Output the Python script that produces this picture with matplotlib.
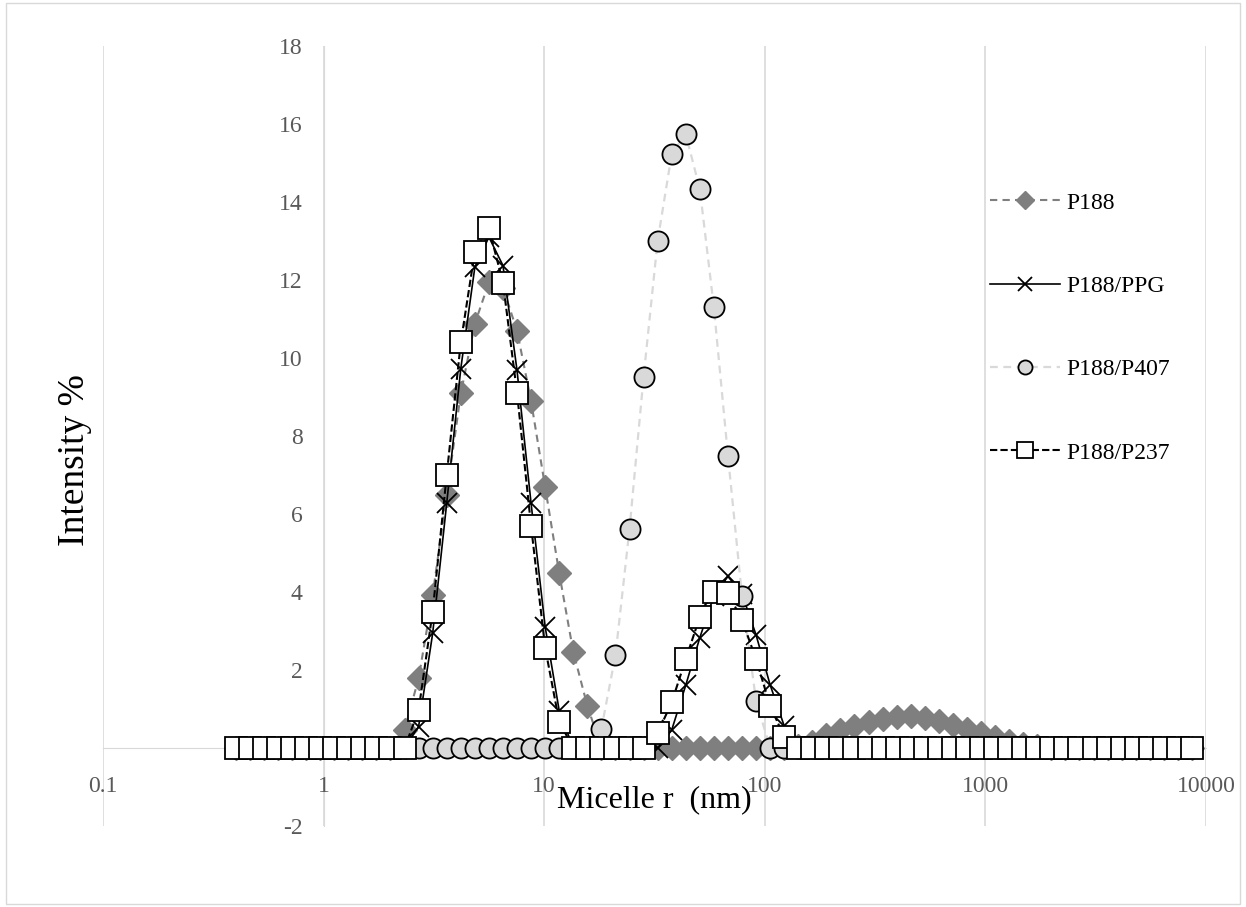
import matplotlib
matplotlib.use('Agg')
import matplotlib.pyplot as plt
from matplotlib.ticker import FixedLocator, FixedFormatter, NullLocator
from matplotlib.patches import Rectangle

# size bins (nm)
size_nm = [0.4, 0.4632, 0.5365, 0.6213, 0.7195, 0.8332, 0.9649, 1.117, 1.294, 1.499,
           1.736, 2.01, 2.328, 2.696, 3.122, 3.615, 4.187, 4.849, 5.615, 6.503,
           7.531, 8.721, 10.1, 11.7, 13.54, 15.69, 18.17, 21.04, 24.36, 28.21,
           32.67, 37.84, 43.82, 50.75, 58.77, 68.06, 78.82, 91.28, 105.7, 122.4,
           141.8, 164.2, 190.1, 220.2, 255.0, 295.3, 342.0, 396.1, 458.7, 531.2,
           615.1, 712.4, 825.0, 955.4, 1106, 1281, 1484, 1718, 1990, 2305,
           2669, 3091, 3580, 4145, 4801, 5560, 6439, 7456, 8635]

p188 = [0, 0, 0, 0, 0, 0, 0, 0, 0, 0,
        0, 0, 0.46, 1.79, 3.92, 6.5, 9.09, 10.88, 11.94, 11.8,
        10.7, 8.89, 6.69, 4.48, 2.47, 1.08, 0, 0, 0, 0,
        0, 0, 0, 0, 0, 0, 0, 0, 0, 0,
        0.05, 0.16, 0.33, 0.45, 0.57, 0.66, 0.75, 0.80, 0.82, 0.78,
        0.70, 0.60, 0.49, 0.39, 0.29, 0.19, 0.10, 0.06, 0, 0,
        0, 0, 0, 0, 0, 0, 0, 0, 0]

p188_ppg = [0, 0, 0, 0, 0, 0, 0, 0, 0, 0,
            0, 0, 0, 0.55, 2.94, 6.28, 9.73, 12.33, 13.1, 12.37,
            9.68, 6.27, 3.11, 0.95, 0, 0, 0, 0, 0, 0,
            0, 0.46, 1.61, 2.83, 3.9, 4.4, 3.95, 2.9, 1.62, 0.57,
            0, 0, 0, 0, 0, 0, 0, 0, 0, 0,
            0, 0, 0, 0, 0, 0, 0, 0, 0, 0,
            0, 0, 0, 0, 0, 0, 0, 0, 0]

p188_p407 = [0, 0, 0, 0, 0, 0, 0, 0, 0, 0,
             0, 0, 0, 0, 0, 0, 0, 0, 0, 0,
             0, 0, 0, 0, 0, 0, 0.5, 2.38, 5.61, 9.51,
             13.0, 15.23, 15.74, 14.33, 11.3, 7.5, 3.9, 1.21, 0, 0,
             0, 0, 0, 0, 0, 0, 0, 0, 0, 0,
             0, 0, 0, 0, 0, 0, 0, 0, 0, 0,
             0, 0, 0, 0, 0, 0, 0, 0, 0]

p188_p237 = [0, 0, 0, 0, 0, 0, 0, 0, 0, 0,
             0, 0, 0, 0.97, 3.5, 7.0, 10.4, 12.73, 13.33, 11.93,
             9.11, 5.69, 2.57, 0.67, 0, 0, 0, 0, 0, 0,
             0.38, 1.17, 2.28, 3.36, 3.99, 3.98, 3.28, 2.28, 1.08, 0.29,
             0, 0, 0, 0, 0, 0, 0, 0, 0, 0,
             0, 0, 0, 0, 0, 0, 0, 0, 0, 0,
             0, 0, 0, 0, 0, 0, 0, 0, 0]

x_ticks = [0.1, 1, 10, 100, 1000, 10000]
x_labels = ['0.1', '1', '10', '100', '1000', '10000']
y_ticks = [-2, 0, 2, 4, 6, 8, 10, 12, 14, 16, 18]
y_labels = ['-2', '0', '2', '4', '6', '8', '10', '12', '14', '16', '18']

plt.rcParams['font.family'] = ['Liberation Serif', 'DejaVu Serif']
W, H = 1246, 907
fig = plt.figure(figsize=(W / 100, H / 100), dpi=100)
ax = fig.add_axes([103 / W, 1 - 826 / H, (1206 - 103) / W, (826 - 46) / H])
ax.set_xscale('log')

grid_c = '#d9d9d9'
ax.plot(size_nm, p188, color='#7f7f7f', ls=(0, (3.5, 2.5)), lw=1.5,
        marker='D', ms=12.5, mfc='#7f7f7f', mec='#7f7f7f', label='P188')
ax.plot(size_nm, p188_ppg, color='black', ls='-', lw=1.2,
        marker='x', ms=14, mew=1.3, label='P188/PPG')
ax.plot(size_nm, p188_p407, color=grid_c, ls=(0, (3.5, 2.5)), lw=1.6,
        marker='o', ms=14.5, mfc=grid_c, mec='black', mew=1.3, label='P188/P407')
ax.plot(size_nm, p188_p237, color='black', ls=(0, (3.5, 1.5)), lw=1.5,
        marker='s', ms=15.5, mfc='white', mec='black', mew=1.3, label='P188/P237')

ax.set_xlim(0.1, 10000)
ax.set_ylim(-2, 18)

for s in ['top', 'right']:
    ax.spines[s].set_visible(False)
ax.spines['left'].set_position(('data', 1))
ax.spines['bottom'].set_position(('data', 0))
ax.spines['left'].set_color(grid_c)
ax.spines['bottom'].set_color(grid_c)
ax.spines['left'].set_zorder(0.5)
ax.spines['bottom'].set_zorder(0.5)

ax.xaxis.set_major_locator(FixedLocator(x_ticks))
ax.xaxis.set_major_formatter(FixedFormatter(x_labels))
ax.xaxis.set_minor_locator(NullLocator())
ax.yaxis.set_major_locator(FixedLocator(y_ticks))
ax.yaxis.set_major_formatter(FixedFormatter(y_labels))
ax.tick_params(axis='both', length=0, labelsize=17, labelcolor='#595959')
ax.tick_params(axis='x', pad=20)
ax.tick_params(axis='y', pad=15)
ax.xaxis.grid(True, color=grid_c, lw=1.2)
ax.set_axisbelow(True)

fig.text(75 / W, 1 - 460 / H, 'Intensity %', rotation=90, ha='center', va='center', fontsize=27)
fig.text(654.5 / W, 1 - 800 / H, 'Micelle r  (nm)', ha='center', va='center', fontsize=23)

ax.legend(loc='upper left', bbox_to_anchor=(990 / W, 1 - 192 / H), bbox_transform=fig.transFigure,
          frameon=False, fontsize=17, handlelength=2.95, handletextpad=0.3,
          labelspacing=2.62, borderpad=0, borderaxespad=0, markerscale=0.7)

fig.patches.append(Rectangle((6 / W, 3 / H), (1240 - 6) / W, (904 - 3) / H, transform=fig.transFigure,
                             fill=False, ec=grid_c, lw=1))

fig.savefig('out.png', dpi=100)
